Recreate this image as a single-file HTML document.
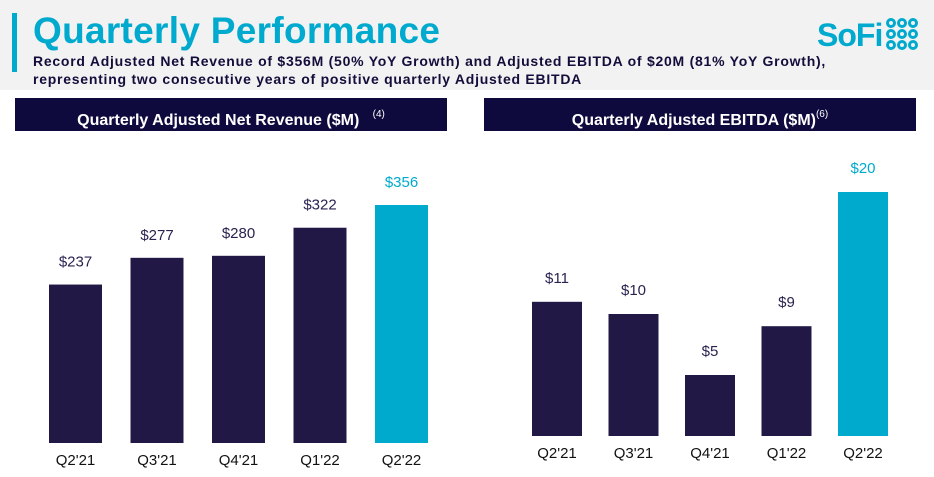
<!DOCTYPE html>
<html><head><meta charset="utf-8"><style>
body{margin:0;width:934px;height:477px;background:#fff;overflow:hidden;font-family:"Liberation Sans",sans-serif;position:relative}
.hdr{position:absolute;left:0;top:0;width:934px;height:90px;background:#f2f2f2}
.accent{position:absolute;left:12px;top:13px;width:5px;height:59px;background:#00a9ce}
.title{position:absolute;left:33px;top:10px;font-size:37px;font-weight:bold;color:#00a9ce;letter-spacing:0.3px}
.sub{position:absolute;left:33px;top:52px;font-size:14px;font-weight:bold;color:#120d3a;line-height:18px;letter-spacing:0.75px}
.logo{position:absolute;left:817px;top:12px;font-size:32px;font-weight:bold;color:#00a9ce;letter-spacing:-1px}
.banner{position:absolute;top:98px;height:33px;background:#0f0a3e;color:#fff;font-size:16px;font-weight:bold;text-align:center;line-height:33px}
.banner sup{font-size:10px;font-weight:normal;vertical-align:8px}
svg{position:absolute;left:0;top:0}
</style></head><body>
<div class="hdr"></div>
<div class="accent"></div>
<div class="title">Quarterly Performance</div>
<div class="sub">Record Adjusted Net Revenue of $356M (50% YoY Growth) and Adjusted EBITDA of $20M (81% YoY Growth),<br>representing two consecutive years of positive quarterly Adjusted EBITDA</div>
<div class="logo">SoFi<svg width="34" height="34" viewBox="0 0 34 34" style="position:relative;left:3px;top:5px"><g fill="none" stroke="#00a9ce" stroke-width="3"><circle cx="6" cy="6" r="3.5"/><circle cx="17" cy="6" r="3.5"/><circle cx="28" cy="6" r="3.5"/><circle cx="6" cy="17" r="3.5"/><circle cx="17" cy="17" r="3.5"/><circle cx="28" cy="17" r="3.5"/><circle cx="6" cy="28" r="3.5"/><circle cx="17" cy="28" r="3.5"/><circle cx="28" cy="28" r="3.5"/></g></svg></div>
<div class="banner" style="left:15px;width:432px">Quarterly Adjusted Net Revenue ($M)&nbsp;&nbsp;&nbsp;<sup>(4)</sup></div>
<div class="banner" style="left:484px;width:432px">Quarterly Adjusted EBITDA ($M)<sup>(6)</sup></div>
<svg id="chart" width="934" height="477"></svg>
<script>
const categories = ["Q2'21","Q3'21","Q4'21","Q1'22","Q2'22"];
const revenueValues = [237,277,280,322,356];
const ebitdaValues = [11,10,5,9,20];
const NS="http://www.w3.org/2000/svg";
const svg=document.getElementById('chart');
function mk(tag,attrs){const e=document.createElementNS(NS,tag);for(const k in attrs)e.setAttribute(k,attrs[k]);svg.appendChild(e);return e;}
function draw(vals,x0,step,bw,base,scale,labelOff,catY,prefix){
  vals.forEach((v,i)=>{
    const x=x0+i*step, h=v*scale, y=base-h, last=i===vals.length-1;
    const r=mk('rect',{x:x,y:y,width:bw,height:h,fill:last?'#00aacd':'#211845'});
    
    
    const t=mk('text',{x:x+bw/2,y:y-labelOff,'text-anchor':'middle','font-size':'15',fill:last?'#00aacd':'#2a2350'});
    t.textContent='$'+v;
    
    
    const c=mk('text',{x:x+bw/2,y:catY,'text-anchor':'middle','font-size':'15',fill:'#111'});
    c.textContent=categories[i];
    
    
  });
}
draw(revenueValues,49,81.5,53,443,238/356,18,465,'revenue');
draw(ebitdaValues,532,76.5,50,436,244/20,19,458,'ebitda');
</script>
</body></html>
